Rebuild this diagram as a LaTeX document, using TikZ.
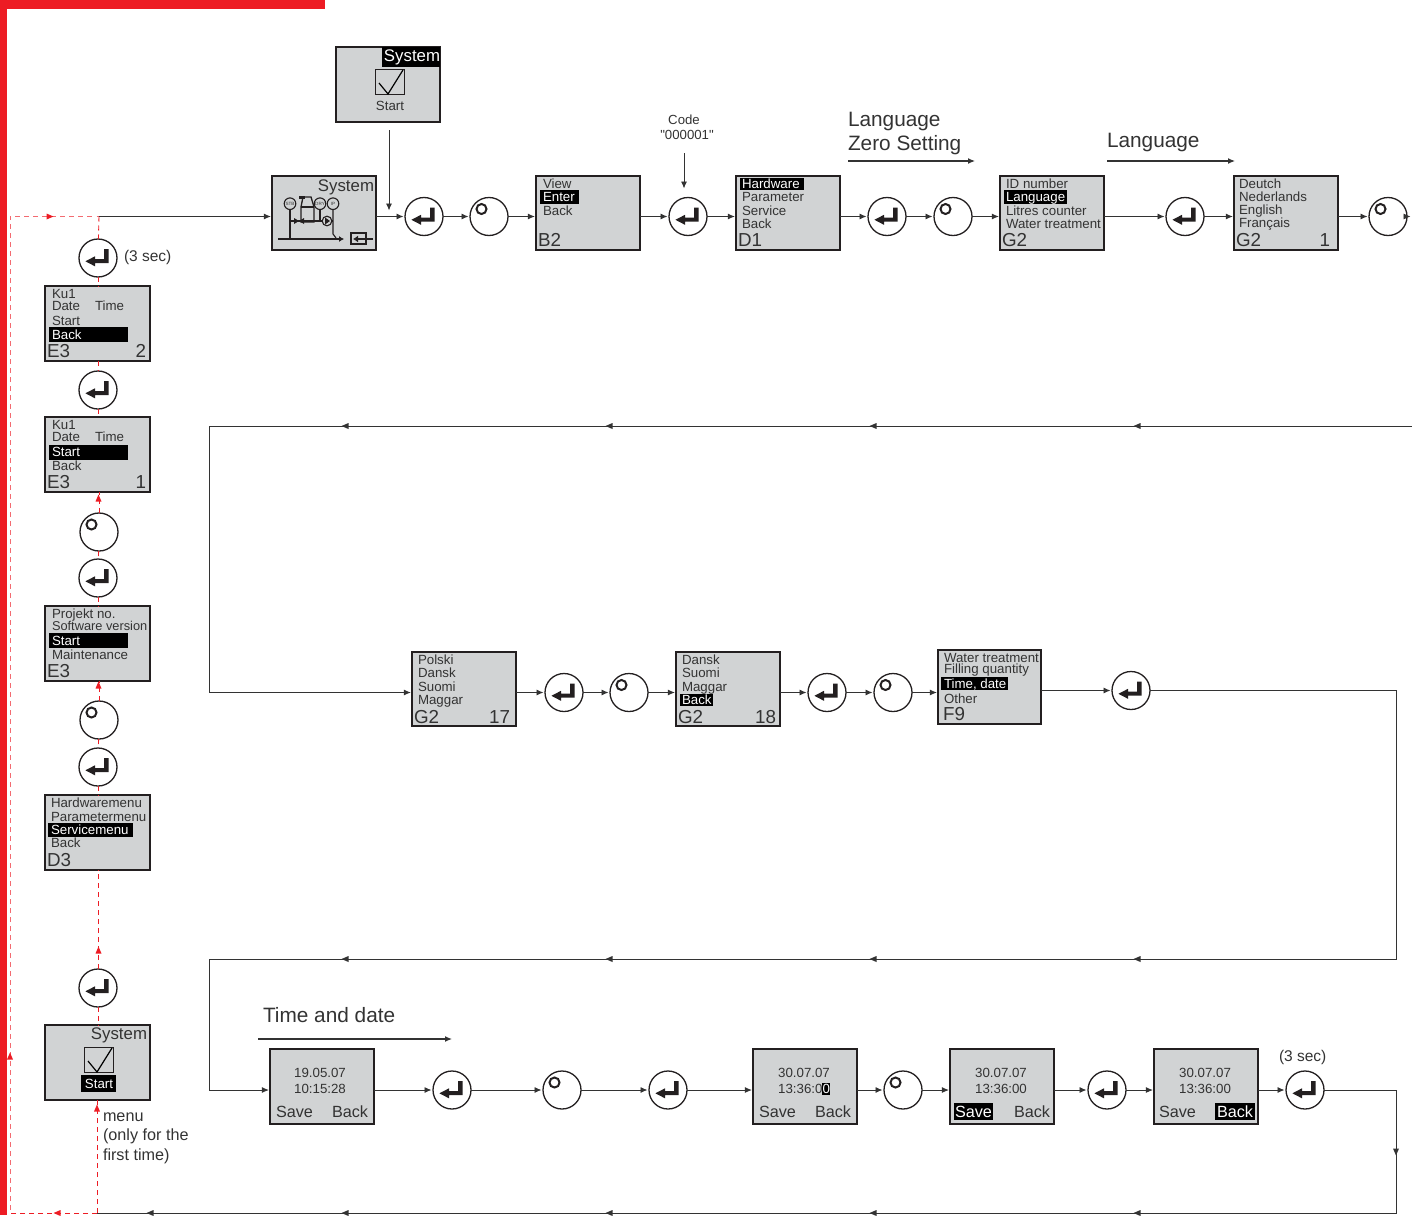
\documentclass[tikz,border=0pt]{standalone}
\usepackage{fontspec}
\setmainfont{Liberation Sans}
\newfontfamily\straightfont{Liberation Sans}
\usetikzlibrary{arrows.meta}
\definecolor{rd}{HTML}{ED1C24}
\definecolor{scr}{HTML}{D1D3D4}
\definecolor{ink}{HTML}{333333}
\definecolor{frame}{HTML}{231F20}
\newcount\tcnt
\tikzset{
  x=1pt,y=-1pt,
  screenbox/.style={draw=frame,fill=scr,line width=1.9pt,inner sep=0,outer sep=0},
  btn/.style={circle,draw=frame,fill=white,line width=1.3pt,minimum size=38pt,inner sep=0,outer sep=0},
  flow/.style={draw=ink,line width=0.9pt,-{Latex[length=7pt,width=6pt]},shorten >=1.5pt},
  plain/.style={draw=ink,line width=0.9pt},
  redflow/.style={draw=rd,line width=0.9pt,dash pattern=on 5pt off 4pt},
  redlight/.style={draw=rd!65,line width=1pt,dash pattern=on 5pt off 4pt},
  headflow/.style={draw=ink,line width=1.2pt,-{Latex[length=7pt,width=6pt]}},
  lbl/.style={anchor=base west,inner sep=0,outer sep=0,text=ink},
  rlbl/.style={anchor=base east,inner sep=0,outer sep=0,text=ink},
  clbl/.style={anchor=base,inner sep=0,outer sep=0,text=ink},
  menut/.style={font=\fontsize{13.3}{13.3}\selectfont},
  menutn/.style={font=\fontsize{12.8}{12.8}\selectfont},
  sysf/.style={font=\fontsize{16.8}{16.8}\selectfont},
  idf/.style={font=\fontsize{18.8}{18.8}\selectfont},
  softf/.style={font=\fontsize{16.2}{16.2}\selectfont},
  headf/.style={font=\fontsize{20.8}{20.8}\selectfont},
  notef/.style={font=\fontsize{15.5}{15.5}\selectfont},
  menuf/.style={font=\fontsize{16.2}{16.2}\selectfont},
  codef/.style={font=\fontsize{13.2}{13.2}\selectfont},
  inv/.style={text=white},
}
\newcommand\T[4][]{\global\advance\tcnt by 1 \node[lbl,name=t\the\tcnt,#1] at (#2,#3) {#4};}
\newcommand\screen[5]{\draw[draw=frame,fill=scr,line width=1.9pt] (#2+0.4,#3+0.4) rectangle (#4-0.4,#5-0.2);
  \node[inner sep=0,outer sep=0,minimum width={(#4-#2-0.8)*1pt},minimum height={(#5-#3-0.6)*1pt}] (#1) at ({(#2+#4)/2},{(#3+#5)/2+0.1}) {};}
\newcommand\hl[4]{\fill[black] (#1,#2) rectangle (#3,#4);}
\newcommand\enterb[3]{\node[btn] (#1) at (#2,#3) {};
  \fill[frame,shift={(#1.center)}] (6,-9)--(10.7,-9)--(10.7,5)--(-3,5)--(-3,8.3)--(-12.6,3.3)--(-3,-1.7)--(-3,1)--(6,1)--cycle;}
\newcommand\knob[3]{\node[btn] (#1) at (#2,#3) {};
  \draw[frame,line width=2pt,shift={(#1.center)}] (-7.5,-7.5) circle (5);}
\newcommand\tipm[3]{\fill[ink,shift={(#1,#2)},rotate=#3] (-3.5,-3)--(3.5,0)--(-3.5,3)--cycle;}
\newcommand\tipr[3]{\fill[rd,shift={(#1,#2)},rotate=#3] (-3.5,-3)--(3.5,0)--(-3.5,3)--cycle;}
\newcommand\checkb[4]{\draw[frame,line width=0.9pt] (#1,#2) rectangle (#3,#4);
  \draw[black,line width=1.2pt] (#1+4,#2+14) -- (#1+13,#4) -- (#3-1,#2+1);}
\begin{document}
\begin{tikzpicture}
\useasboundingbox (0,0) rectangle (1412,1215);
% red frame
\fill[rd] (0,0) rectangle (325,9);
\fill[rd] (0,0) rectangle (7,1215);
% free coordinates
\coordinate (hub) at (99,216.5);
\coordinate (tl) at (10,216.5);
\coordinate (bl) at (10,1213);
\coordinate (bm) at (97,1213);
\coordinate (br) at (1396,1213);
\coordinate (r1a) at (1412,426);
\coordinate (r1b) at (209,426);
\coordinate (r1c) at (209,692.5);
\coordinate (r2a) at (1396,690.5);
\coordinate (r2b) at (1396,959);
\coordinate (r2c) at (209,959);
\coordinate (r2d) at (209,1090);
\coordinate (r3a) at (1396,1090);
\coordinate (endr) at (1412,216.5);
\coordinate (stA) at (389,130);
\coordinate (stB) at (389,212);
\coordinate (cdA) at (684,153);
\coordinate (cdB) at (684,190);
\coordinate (ha1) at (848,161);
\coordinate (ha2) at (975,161);
\coordinate (hb1) at (1107,161);
\coordinate (hb2) at (1235,161);
\coordinate (hc1) at (258,1039);
\coordinate (hc2) at (452,1039);
% screens
\screen{sA}{336}{47}{440}{122}
\screen{sys}{272}{176}{376}{250}
\screen{b2}{536}{176}{640}{250}
\screen{d1}{736}{176}{840}{250}
\screen{g2a}{1000}{176}{1104}{250}
\screen{g2b}{1234}{176}{1338}{250}
\screen{e32}{45}{286}{150}{361}
\screen{e31}{45}{417}{150}{492}
\screen{e3}{45}{606}{150}{681}
\screen{d3}{45}{795}{150}{870}
\screen{sB}{45}{1025}{150}{1100}
\screen{g17}{412}{652}{516}{726}
\screen{g18}{676}{652}{780}{726}
\screen{f9}{938}{650}{1041}{724}
\screen{tA}{270}{1049}{374}{1124}
\screen{tB}{753}{1049}{857}{1124}
\screen{tC}{950}{1049}{1054}{1124}
\screen{tD}{1154}{1049}{1258}{1124}
% buttons
\enterb{e1}{424}{216.5} \knob{k1}{489}{216.5}
\enterb{e2}{688}{216.5}
\enterb{e3b}{887}{216.5} \knob{k2}{953}{216.5}
\enterb{e4}{1185}{216.5} \knob{k3}{1388}{216.5}
\enterb{l1}{98}{258} \enterb{l2}{98}{390}
\knob{l3}{99}{532} \enterb{l4}{98}{578}
\knob{l5}{99}{720} \enterb{l6}{98}{767}
\enterb{l7}{98}{988}
\enterb{m1}{564}{692.5} \knob{m2}{629}{692.5}
\enterb{m3}{827}{692.5} \knob{m4}{893}{692.5}
\enterb{m5}{1131}{690.5}
\enterb{n1}{452}{1090} \knob{n2}{562}{1090} \enterb{n3}{668}{1090}
\knob{n4}{903}{1090} \enterb{n5}{1107}{1090} \enterb{n6}{1305}{1090}
% red return path
\draw[redlight] (bm) -- (bl) -- (tl) -- (hub);
\draw[redflow] (hub) -- (l1);
\draw[redflow] (l1) -- (l1|-e32.north);
\draw[redflow] (l1|-e32.south) -- (l2);
\draw[redflow] (l2) -- (l2|-e31.north);
\draw[redflow] (l3) -- (l3|-e31.south);
\draw[redflow] (l3) -- (l4);
\draw[redflow] (l4) -- (l4|-e3.north);
\draw[redflow] (l5) -- (l5|-e3.south);
\draw[redflow] (l5) -- (l6);
\draw[redflow] (l6) -- (l6|-d3.north);
\draw[redflow] (l7) -- (l7|-d3.south);
\draw[redflow] (l7) -- (l7|-sB.north);
\draw[redflow] (bm) -- (bm|-sB.south);
\draw[redflow] (bm) -- (bl);
\tipr{50}{216.5}{0}
\tipr{98.5}{498}{90}
\tipr{98.5}{685}{90}
\tipr{98.5}{950}{90}
\tipr{97}{1108}{90}
\tipr{57}{1213}{180}
\tipr{10}{1056}{90}
% black flow: row 1
\draw[flow] (hub) -- (sys.west|-hub);
\draw[flow] (sys.east|-e1) -- (e1);
\draw[flow] (stA) -- (stB);
\draw[flow] (e1) -- (k1);
\draw[flow] (k1) -- (b2.west|-k1);
\draw[flow] (b2.east|-e2) -- (e2);
\draw[flow] (cdA) -- (cdB);
\draw[flow] (e2) -- (d1.west|-e2);
\draw[flow] (d1.east|-e3b) -- (e3b);
\draw[flow] (e3b) -- (k2);
\draw[flow] (k2) -- (g2a.west|-k2);
\draw[flow] (g2a.east|-e4) -- (e4);
\draw[flow] (e4) -- (g2b.west|-e4);
\draw[flow] (g2b.east|-k3) -- (k3);
\draw[flow] (k3) -- (endr);
% row 2
\draw[plain] (r1a) -- (r1b) -- (r1c);
\draw[flow] (r1c) -- (g17.west|-r1c);
\tipm{1137}{426}{180}\tipm{873}{426}{180}\tipm{609}{426}{180}\tipm{345}{426}{180}
\draw[flow] (g17.east|-m1) -- (m1);
\draw[flow] (m1) -- (m2);
\draw[flow] (m2) -- (g18.west|-m2);
\draw[flow] (g18.east|-m3) -- (m3);
\draw[flow] (m3) -- (m4);
\draw[flow] (m4) -- (f9.west|-m4);
\draw[flow] (f9.east|-m5) -- (m5);
\draw[plain] (m5) -- (r2a) -- (r2b) -- (r2c) -- (r2d);
\tipm{1137}{959}{180}\tipm{873}{959}{180}\tipm{609}{959}{180}\tipm{345}{959}{180}
% row 3
\draw[flow] (r2d) -- (tA.west|-r2d);
\draw[flow] (tA.east|-n1) -- (n1);
\draw[flow] (n1) -- (n2);
\draw[flow] (n2) -- (n3);
\draw[flow] (n3) -- (tB.west|-n3);
\draw[flow] (tB.east|-n4) -- (n4);
\draw[flow] (n4) -- (tC.west|-n4);
\draw[flow] (tC.east|-n5) -- (n5);
\draw[flow] (n5) -- (tD.west|-n5);
\draw[flow] (tD.east|-n6) -- (n6);
\draw[plain] (n6) -- (r3a) -- (br) -- (bm);
\tipm{1396}{1152}{-90}
\tipm{1137}{1213}{180}\tipm{873}{1213}{180}\tipm{609}{1213}{180}\tipm{345}{1213}{180}\tipm{150}{1213}{180}
% heading arrows
\draw[headflow] (ha1) -- (ha2);
\draw[headflow] (hb1) -- (hb2);
\draw[headflow] (hc1) -- (hc2);
% screen contents: top start
\hl{382}{47}{440}{67}
\T[rlbl,sysf,inv]{440}{61}{System}
\checkb{375}{69}{404}{94}
\T[clbl,menut]{390}{110}{Start}
% system screen
\T[rlbl,sysf]{374}{191}{System}
\begin{scope}[frame,draw=frame,line width=1.1pt]
  \draw[line width=2.6pt,-{Latex[length=5pt,width=6pt]}] (278,239) -- (344,239);
  \draw (290,209) -- (290,239);
  \draw (333,209) -- (333,234) -- (336,238);
  \draw (320,209) -- (320,221);
  \draw (290,221) -- (333,221);
  \draw[line width=1.3pt] (301,207) -- (303,197) -- (311,197) -- (314,207) -- (314,222) -- (301,222) -- cycle;
  \draw (301,207) -- (314,207);
  \fill (299,196) rectangle (305,199);
  \fill (294,218) -- (299,221) -- (294,224) -- cycle;
  \fill (304,218) -- (299,221) -- (304,224) -- cycle;
  \draw[fill=scr] (290,203.7) circle (5.8);
  \draw[fill=scr] (320,203.7) circle (5.8);
  \draw[fill=scr] (333,203.7) circle (5.8);
  \draw[fill=scr,line width=1.1pt] (327,221) circle (4.8);
  \fill (325,217.5) -- (330,221) -- (325,224.5) -- cycle;
  \draw[line width=1.1pt] (351,233) rectangle (366,244);
  \draw[line width=2.2pt,-{Latex[length=5pt,width=7pt]}] (373,239) -- (353,239);
\end{scope}
\T[clbl,font=\fontsize{4.6}{4.6}\selectfont]{290}{205.5}{STB}
\T[clbl,font=\fontsize{4.6}{4.6}\selectfont]{320}{205.5}{DRY}
\T[clbl,font=\fontsize{4.6}{4.6}\selectfont]{333}{205.5}{IP}
% B2
\T[menut]{543}{188}{View}
\hl{540}{190}{579}{204}
\T[menut,inv]{543}{201}{Enter}
\T[menut]{543}{215}{Back}
\T[idf]{538}{246}{B2}
% D1
\hl{740}{178}{804}{190}
\T[menut,inv]{742}{188}{Hardware}
\T[menut]{742}{201}{Parameter}
\T[menut]{742}{215}{Service}
\T[menut]{742}{228}{Back}
\T[idf]{738}{246}{D1}
% G2 a
\T[menut]{1006}{188}{ID number}
\hl{1004}{190}{1067}{204}
\T[menut,inv]{1006}{201}{Language}
\T[menut]{1006}{215}{Litres counter}
\T[menut]{1006}{228}{Water treatment}
\T[idf]{1002}{246}{G2}
% G2 b
\T[menut]{1239}{188}{Deutch}
\T[menut]{1239}{201}{Nederlands}
\T[menut]{1239}{214}{English}
\T[menut]{1239}{227}{Français}
\T[idf]{1236}{246}{G2}
\T[rlbl,idf]{1330}{246}{1}
% E3 2
\T[menut]{52}{298}{Ku1}
\T[menut]{52}{310}{Date}
\T[menut]{95}{310}{Time}
\T[menut]{52}{325}{Start}
\hl{49}{327}{128}{342}
\T[menut,inv]{52}{339}{Back}
\T[idf]{47}{357}{E3}
\T[rlbl,idf]{146}{357}{2}
% E3 1
\T[menut]{52}{429}{Ku1}
\T[menut]{52}{441}{Date}
\T[menut]{95}{441}{Time}
\hl{49}{445}{128}{460}
\T[menut,inv]{52}{456}{Start}
\T[menut]{52}{470}{Back}
\T[idf]{47}{488}{E3}
\T[rlbl,idf]{146}{488}{1}
% E3
\T[menut]{52}{618}{Projekt no.}
\T[menutn]{52}{630}{Software version}
\hl{49}{633}{128}{648}
\T[menut,inv]{52}{645}{Start}
\T[menut]{52}{659}{Maintenance}
\T[idf]{47}{677}{E3}
% D3
\T[menut]{51}{807}{Hardwaremenu}
\T[menut]{51}{821}{Parametermenu}
\hl{48}{823}{133}{837}
\T[menut,inv]{51}{834}{Servicemenu}
\T[menut]{51}{847}{Back}
\T[idf]{47}{866}{D3}
% system start
\T[rlbl,sysf]{147}{1039}{System}
\checkb{84}{1047}{113}{1072}
\hl{81}{1075}{116}{1092}
\T[clbl,menut,inv]{99}{1088}{Start}
% G2 17
\T[menut]{418}{664}{Polski}
\T[menut]{418}{677}{Dansk}
\T[menut]{418}{691}{Suomi}
\T[menut]{418}{704}{Maggar}
\T[idf]{414}{723}{G2}
\T[rlbl,idf]{510}{723}{17}
% G2 18
\T[menut]{682}{664}{Dansk}
\T[menut]{682}{677}{Suomi}
\T[menut]{682}{691}{Maggar}
\hl{680}{694}{713}{706}
\T[menut,inv]{682}{704}{Back}
\T[idf]{678}{723}{G2}
\T[rlbl,idf]{776}{723}{18}
% F9
\T[menut]{944}{662}{Water treatment}
\T[menut]{944}{673}{Filling quantity}
\hl{941}{677}{1008}{690}
\T[menut,inv]{944}{688}{Time, date}
\T[menut]{944}{703}{Other}
\T[idf]{943}{720}{F9}
% time screens
\T[clbl,menut]{320}{1077}{19.05.07}
\T[clbl,menut]{320}{1093}{10:15:28}
\T[softf]{276}{1117}{Save}
\T[softf]{332}{1117}{Back}
\T[clbl,menut]{804}{1077}{30.07.07}
\hl{822}{1083}{830}{1095}
\T[clbl,menut]{804}{1093}{13:36:0\textcolor{white}{0}}
\T[softf]{759}{1117}{Save}
\T[softf]{815}{1117}{Back}
\T[clbl,menut]{1001}{1077}{30.07.07}
\T[clbl,menut]{1001}{1093}{13:36:00}
\hl{954}{1103}{993}{1120}
\T[softf,inv]{955}{1117}{Save}
\T[softf]{1014}{1117}{Back}
\T[clbl,menut]{1205}{1077}{30.07.07}
\T[clbl,menut]{1205}{1093}{13:36:00}
\T[softf]{1159}{1117}{Save}
\hl{1215}{1103}{1255}{1120}
\T[softf,inv]{1217}{1117}{Back}
% notes
\T[notef]{124}{261}{(3 sec)}
\T[notef]{1279}{1061}{(3 sec)}
\T[menuf]{103}{1121}{menu}
\T[menuf]{103}{1140}{(only for the}
\T[menuf]{103}{1160}{first time)}
\T[clbl,codef]{684}{124}{Code}
\T[clbl,codef]{687}{139}{\straightfont "000001"}
\T[headf]{848}{126}{Language}
\T[headf]{848}{150}{Zero Setting}
\T[headf]{1107}{147}{Language}
\T[headf]{263}{1022}{Time and date}
\end{tikzpicture}
\end{document}
